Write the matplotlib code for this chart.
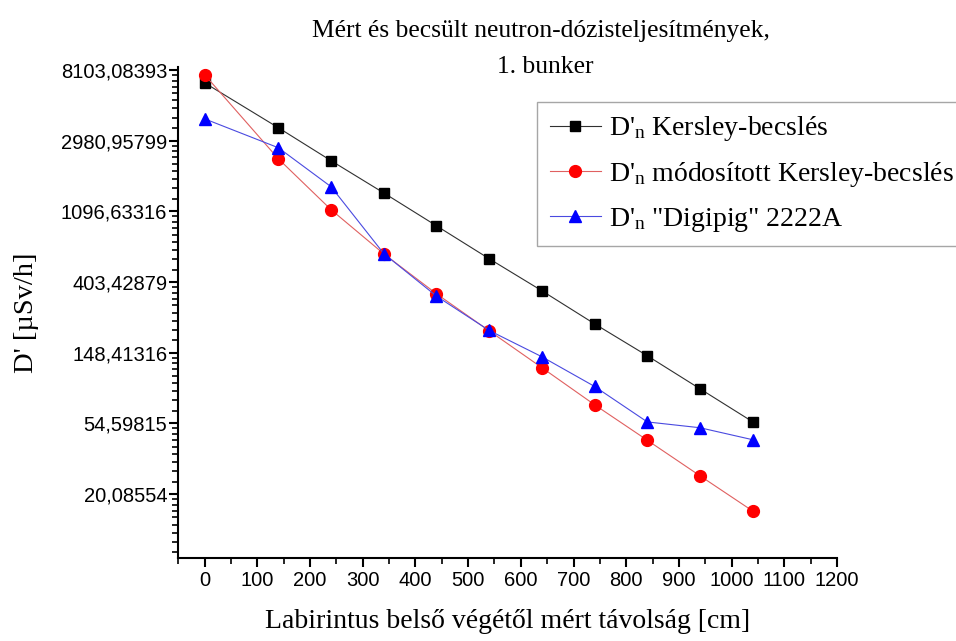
"""Measured and estimated neutron dose rates along the maze, bunker 1."""
import matplotlib
matplotlib.use("Agg")
import matplotlib.pyplot as plt
import numpy as np
from matplotlib.ticker import FixedLocator, FuncFormatter, MultipleLocator

plt.rcParams["mathtext.fontset"] = "custom"
plt.rcParams["mathtext.rm"] = "Liberation Serif"
plt.rcParams["mathtext.it"] = "Liberation Serif:italic"

SERIF = "Liberation Serif"
SANS = "Liberation Sans"

# distance from inner end of the maze [cm]
distance = [0, 140, 240, 340, 440, 540, 640, 740, 840, 940, 1040]

kersley = [6740, 3570, 2240, 1420, 892, 560, 356, 223, 142, 89, 55.8]
kersley_mod = [7560, 2300, 1120, 600, 341, 202, 120, 71, 43, 26, 15.8]
digipig = [4050, 2690, 1550, 602, 330, 203, 140, 92, 55.7, 51.3, 43.3]

labels = [
    r"D'$_\mathrm{n}$ Kersley-becslés",
    r"D'$_\mathrm{n}$ módosított Kersley-becslés",
    r'D'"'"r'$_\mathrm{n}$ "Digipig" 2222A',
]

major_exp = [3, 4, 5, 6, 7, 8, 9]


def main():
    fig = plt.figure(figsize=(9.56, 6.41), dpi=100)
    ax = fig.add_axes([0.1865, 0.130, 0.689, 0.7655])

    ax.plot(distance, kersley, color="#303030", lw=0.8, marker="s", ms=7.5,
            mfc="black", mec="black", label=labels[0])
    ax.plot(distance, kersley_mod, color="#e06060", lw=0.8, marker="o", ms=8.5,
            mfc="#ff0000", mec="#ff0000", label=labels[1])
    ax.plot(distance, digipig, color="#4a4ae0", lw=0.8, marker="^", ms=9,
            mfc="#0000ff", mec="#0000ff", label=labels[2])

    ax.set_yscale("log", base=np.e)
    ax.set_ylim(np.exp(2.1), np.exp(9.04))
    ax.set_xlim(-50, 1200)

    majors = [np.exp(k) for k in major_exp]
    minors = []
    for k in range(2, 10):
        lo, hi = np.exp(k), np.exp(k + 1)
        minors += list(np.linspace(lo, hi, 10)[1:-1])
    ax.yaxis.set_major_locator(FixedLocator(majors))
    ax.yaxis.set_minor_locator(FixedLocator(minors))
    ax.yaxis.set_major_formatter(
        FuncFormatter(lambda v, p: f"{v:.5f}".replace(".", ",")))
    ax.yaxis.set_minor_formatter(FuncFormatter(lambda v, p: ""))

    ax.xaxis.set_major_locator(MultipleLocator(100))
    ax.xaxis.set_minor_locator(MultipleLocator(50))

    for spine in ["top", "right"]:
        ax.spines[spine].set_visible(False)
    for spine in ["left", "bottom"]:
        ax.spines[spine].set_linewidth(1.5)
    ax.tick_params(which="major", length=6.5, width=1.5, labelsize=14.5)
    ax.tick_params(axis="y", which="major", pad=1.5)
    ax.tick_params(axis="x", which="major", pad=3)
    ax.tick_params(which="minor", length=4, width=1.2)
    for lab in ax.get_xticklabels() + ax.get_yticklabels():
        lab.set_fontfamily(SANS)

    ax.set_xlabel("Labirintus belső végétől mért távolság [cm]",
                  fontfamily=SERIF, fontsize=20, labelpad=14)
    ax.set_ylabel("D' [µSv/h]", fontfamily=SERIF, fontsize=20.5, labelpad=16)

    fig.text(0.566, 0.951, "Mért és becsült neutron-dózisteljesítmények,",
             ha="center", va="center", fontfamily=SERIF, fontsize=18.4)
    fig.text(0.570, 0.895, "1. bunker",
             ha="center", va="center", fontfamily=SERIF, fontsize=18.4)

    leg = ax.legend(loc="upper left", bbox_to_anchor=(0.5446, 0.9287),
                    borderaxespad=0, prop={"family": SERIF, "size": 20},
                    frameon=True, fancybox=False, edgecolor="#909090",
                    borderpad=0.45, handlelength=1.85, handletextpad=0.3,
                    labelspacing=0.6)
    leg.get_frame().set_linewidth(1.0)

    fig.savefig("out.png", dpi=100)


if __name__ == "__main__":
    main()
